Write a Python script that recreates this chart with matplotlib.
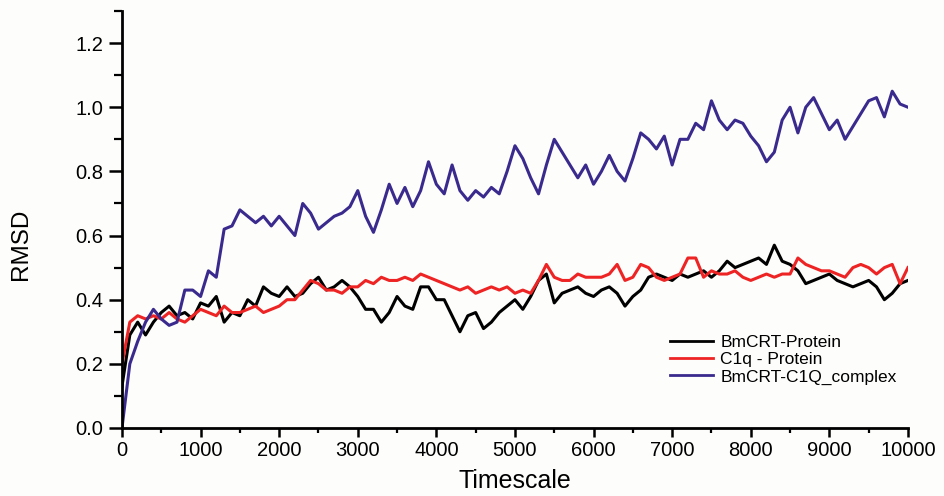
import matplotlib
matplotlib.use("Agg")
import matplotlib.pyplot as plt
from matplotlib.ticker import MultipleLocator

# time axis, one value every 100 units
timescale = list(range(0, 10001, 100))

bmcrt_protein = [
    0.13, 0.29, 0.33, 0.29, 0.33, 0.36, 0.38, 0.35, 0.36, 0.34,
    0.39, 0.38, 0.41, 0.33, 0.36, 0.35, 0.40, 0.38, 0.44, 0.42,
    0.41, 0.44, 0.41, 0.42, 0.45, 0.47, 0.43, 0.44, 0.46, 0.44,
    0.41, 0.37, 0.37, 0.33, 0.36, 0.41, 0.38, 0.37, 0.44, 0.44,
    0.40, 0.40, 0.35, 0.30, 0.35, 0.36, 0.31, 0.33, 0.36, 0.38,
    0.40, 0.37, 0.41, 0.46, 0.48, 0.39, 0.42, 0.43, 0.44, 0.42,
    0.41, 0.43, 0.44, 0.42, 0.38, 0.41, 0.43, 0.47, 0.48, 0.47,
    0.46, 0.48, 0.47, 0.48, 0.49, 0.47, 0.49, 0.52, 0.50, 0.51,
    0.52, 0.53, 0.51, 0.57, 0.52, 0.51, 0.49, 0.45, 0.46, 0.47,
    0.48, 0.46, 0.45, 0.44, 0.45, 0.46, 0.44, 0.40, 0.42, 0.45,
    0.46,
]

c1q_protein = [
    0.20, 0.33, 0.35, 0.34, 0.35, 0.34, 0.36, 0.34, 0.33, 0.35,
    0.37, 0.36, 0.35, 0.38, 0.36, 0.36, 0.37, 0.38, 0.36, 0.37,
    0.38, 0.40, 0.40, 0.43, 0.46, 0.45, 0.43, 0.43, 0.42, 0.44,
    0.44, 0.46, 0.45, 0.47, 0.46, 0.46, 0.47, 0.46, 0.48, 0.47,
    0.46, 0.45, 0.44, 0.43, 0.44, 0.42, 0.43, 0.44, 0.43, 0.44,
    0.42, 0.43, 0.42, 0.46, 0.51, 0.47, 0.46, 0.46, 0.48, 0.47,
    0.47, 0.47, 0.48, 0.51, 0.46, 0.47, 0.51, 0.50, 0.47, 0.46,
    0.47, 0.48, 0.53, 0.53, 0.47, 0.49, 0.48, 0.48, 0.49, 0.47,
    0.46, 0.47, 0.48, 0.47, 0.48, 0.48, 0.53, 0.51, 0.50, 0.49,
    0.49, 0.48, 0.47, 0.50, 0.51, 0.50, 0.48, 0.50, 0.51, 0.45,
    0.50,
]

complex_rmsd = [
    0.00, 0.20, 0.27, 0.33, 0.37, 0.34, 0.32, 0.33, 0.43, 0.43,
    0.41, 0.49, 0.47, 0.62, 0.63, 0.68, 0.66, 0.64, 0.66, 0.63,
    0.66, 0.63, 0.60, 0.70, 0.67, 0.62, 0.64, 0.66, 0.67, 0.69,
    0.74, 0.66, 0.61, 0.68, 0.76, 0.70, 0.75, 0.69, 0.74, 0.83,
    0.76, 0.73, 0.82, 0.74, 0.71, 0.74, 0.72, 0.75, 0.73, 0.80,
    0.88, 0.84, 0.78, 0.73, 0.82, 0.90, 0.86, 0.82, 0.78, 0.82,
    0.76, 0.80, 0.85, 0.80, 0.77, 0.84, 0.92, 0.90, 0.87, 0.91,
    0.82, 0.90, 0.90, 0.95, 0.93, 1.02, 0.96, 0.93, 0.96, 0.95,
    0.91, 0.88, 0.83, 0.86, 0.96, 1.00, 0.92, 1.00, 1.03, 0.98,
    0.93, 0.96, 0.90, 0.94, 0.98, 1.02, 1.03, 0.97, 1.05, 1.01,
    1.00,
]

labels = ["BmCRT-Protein", "C1q - Protein", "BmCRT-C1Q_complex"]
colors = ["#000000", "#ee2424", "#3a2a8e"]

plt.rcParams["font.family"] = ["Liberation Sans", "DejaVu Sans"]

fig = plt.figure(figsize=(9.44, 4.96), dpi=100)
fig.patch.set_facecolor("#fdfdfb")
ax = fig.add_axes([0.1292, 0.1371, 0.8326, 0.8407])
ax.set_facecolor("#fdfdfb")

for ys, lab, col in zip([bmcrt_protein, c1q_protein, complex_rmsd], labels, colors):
    ax.plot(timescale, ys, color=col, lw=2.2, label=lab)

ax.set_xlim(0, 10000)
ax.set_ylim(0, 1.3)
ax.xaxis.set_major_locator(MultipleLocator(1000))
ax.xaxis.set_minor_locator(MultipleLocator(500))
ax.set_yticks([0.0, 0.2, 0.4, 0.6, 0.8, 1.0, 1.2])
ax.set_yticklabels(["0.0", "0.2", "0.4", "0.6", "0.8", "1.0", "1.2"])
ax.yaxis.set_minor_locator(MultipleLocator(0.1))
ax.tick_params(axis="x", which="major", length=6.5, width=1.8, labelsize=14.5, pad=3)
ax.tick_params(axis="x", which="minor", length=3.8, width=1.6)
ax.tick_params(axis="y", which="major", length=9.4, width=1.8, labelsize=14.5, pad=4)
ax.tick_params(axis="y", which="minor", length=5.8, width=1.6)
for s in ("top", "right"):
    ax.spines[s].set_visible(False)
for s in ("left", "bottom"):
    ax.spines[s].set_linewidth(2.0)

ax.set_xlabel("Timescale", fontsize=18)
ax.xaxis.set_label_coords(0.5, -0.098)
ax.set_ylabel("RMSD", fontsize=17.5)
ax.yaxis.set_label_coords(-0.1145, 0.441)

leg = ax.legend(loc="upper left", bbox_to_anchor=(0.697, 0.224), frameon=False,
                fontsize=12.5, handlelength=2.5, handletextpad=0.4,
                borderpad=0, borderaxespad=0, labelspacing=0.13)
for line in leg.get_lines():
    line.set_linewidth(2.0)

fig.savefig("out.png", dpi=100, facecolor=fig.get_facecolor())
